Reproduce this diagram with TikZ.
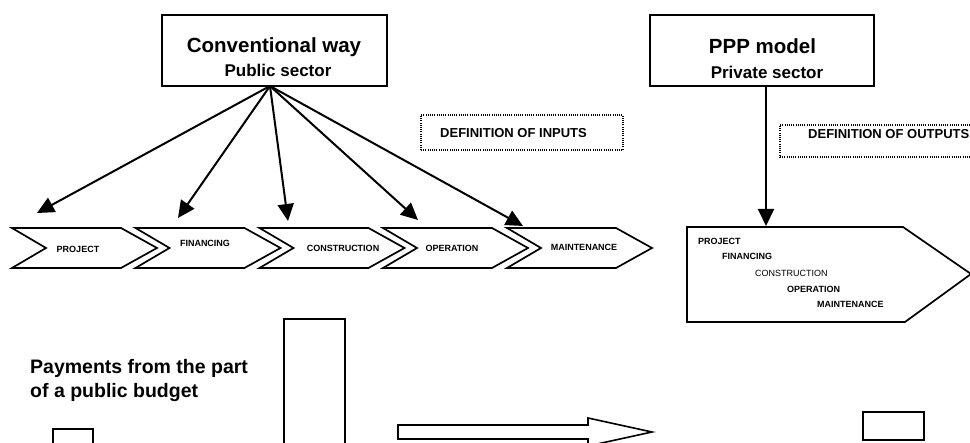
\documentclass[tikz,border=0pt]{standalone}
\usepackage{fontspec}
\setmainfont{Liberation Sans}
\usetikzlibrary{arrows.meta}
\begin{document}
\begin{tikzpicture}[x=1pt,y=-1pt,
  box/.style={draw,line width=1.8pt,inner sep=0pt,rectangle},
  hint/.style={draw,line width=1.1pt,dash pattern=on 1pt off 1.2pt,inner sep=0pt},
  conn/.style={line width=2pt,-{Triangle[length=17pt,width=16pt]}},
  chev/.style={draw,line width=1.7pt,line join=miter},
  outline/.style={draw,line width=1.6pt},
  title/.style={font=\fontsize{20.5}{24}\selectfont\bfseries,inner sep=0pt},
  subtitle/.style={font=\fontsize{17}{20}\selectfont\bfseries,inner sep=0pt},
  stage/.style={font=\fontsize{9}{11}\selectfont\bfseries,inner sep=0pt},
  hinttext/.style={font=\fontsize{13}{15}\selectfont\bfseries,inner sep=0pt,anchor=west},
  caption/.style={font=\fontsize{19.5}{25}\selectfont\bfseries,inner sep=0pt,anchor=west}
]
\useasboundingbox (0,0) rectangle (970,443);
\clip (0,0) rectangle (970,443);

% ---------- conventional way ----------
\node[box,minimum width=225pt,minimum height=71pt] (conv) at (274.5,50.5) {};
\node[title] (convT) at (274,47) {Conventional way};
\node[subtitle] (convS) at (278,70) {Public sector};
\coordinate (hub) at (270,86);

% dotted hint
\node[hint,minimum width=202pt,minimum height=35pt] (inputs) at (522,132.5) {};
\node[hinttext] (inputsT) at (440,133) {DEFINITION OF INPUTS};

% chain of stages
\foreach \i/\x in {1/12,2/135.5,3/259.5,4/383,5/507}{
  \draw[chev] (\x,228) -- ++(109,0) -- ++(36,20) -- ++(-36,20)
    -- ++(-109,0) -- ++(34,-20) -- cycle;
}
\node[stage] (s1) at (78,249) {PROJECT};
\node[stage] (s2) at (205,243) {FINANCING};
\node[stage] (s3) at (343,248) {CONSTRUCTION};
\node[stage] (s4) at (452,248) {OPERATION};
\node[stage] (s5) at (584,247) {MAINTENANCE};

\coordinate (t1) at (37,213);
\coordinate (t2) at (178,218);
\coordinate (t3) at (288,221);
\coordinate (t4) at (418,220);
\coordinate (t5) at (523,226);
\foreach \k in {1,...,5}{ \draw[conn] (hub) -- (t\k); }

% ---------- PPP model ----------
\node[box,minimum width=224pt,minimum height=71pt] (ppp) at (762,50.5) {};
\node[title] (pppT) at (762.5,46) {PPP model};
\node[subtitle] (pppS) at (767,72) {Private sector};

\node[hint,minimum width=220pt,minimum height=32pt] (outputs) at (890,141) {};
\node[hinttext] (outputsT) at (808,134) {DEFINITION OF OUTPUTS};

\draw[chev] (687,227) -- (903,227) -- (971,274) -- (905,322) -- (687,322) -- cycle;
\coordinate (bigtop) at (766,226);
\draw[conn] (ppp.south -| bigtop) -- (bigtop);

\node[stage,anchor=west] (b1) at (698,241) {PROJECT};
\node[stage,anchor=west] (b2) at (722,256) {FINANCING};
\node[stage,anchor=west,font=\fontsize{9}{11}\selectfont] (b3) at (755,273) {CONSTRUCTION};
\node[stage,anchor=west] (b4) at (787,289) {OPERATION};
\node[stage,anchor=west] (b5) at (817,304) {MAINTENANCE};

% ---------- payments ----------
\node[caption] (pay1) at (30,368) {Payments from the part};
\node[caption] (pay2) at (30,393) {of a public budget};

\draw[outline] (53,450) -- (53,429) -- (93,429) -- (93,450);
\draw[outline] (284,450) -- (284,319) -- (345,319) -- (345,450);
\draw[outline] (398,425) -- (588,425) -- (588,418) -- (652,432) -- (588,446)
  -- (588,439) -- (398,439) -- cycle;
\draw[outline] (863,412) rectangle (924,440);
\end{tikzpicture}
\end{document}
